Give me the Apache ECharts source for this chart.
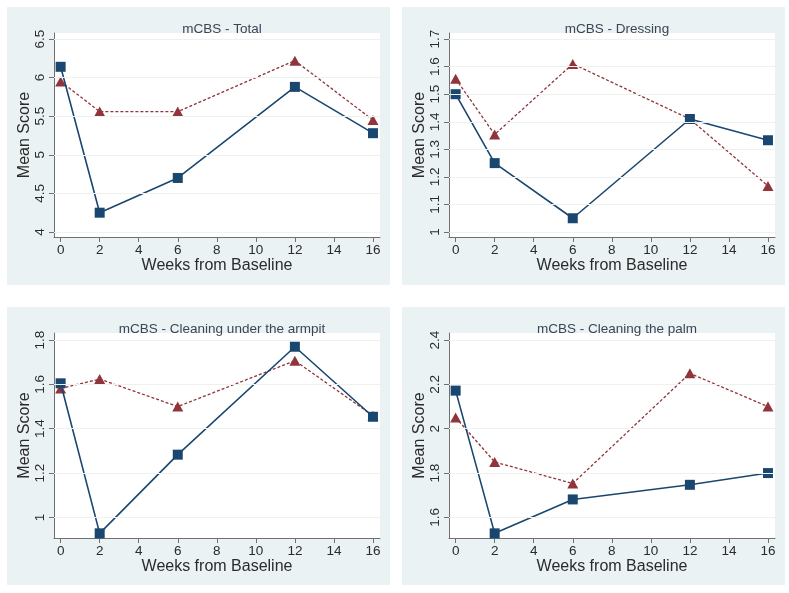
<!DOCTYPE html>
<html><head><meta charset="utf-8">
<script src="https://cdn.jsdelivr.net/npm/echarts@6/dist/echarts.min.js"></script>
<style>html,body{margin:0;padding:0;background:#fff}#c{width:789px;height:593px}</style>
</head><body><div id="c"></div>
<script>
const weeks = [0, 2, 6, 12, 16];
const xTicks = [0, 2, 4, 6, 8, 10, 12, 14, 16];
const titles = ['mCBS - Total', 'mCBS - Dressing', 'mCBS - Cleaning under the armpit', 'mCBS - Cleaning the palm'];
const totalBlue = [6.14, 4.25, 4.70, 5.88, 5.28];
const totalRed = [5.95, 5.56, 5.56, 6.22, 5.45];
const dressingBlue = [1.50, 1.25, 1.05, 1.41, 1.333];
const dressingRed = [1.556, 1.354, 1.61, 1.41, 1.167];
const armpitBlue = [1.605, 0.928, 1.283, 1.77, 1.454];
const armpitRed = [1.582, 1.624, 1.50, 1.707, 1.459];
const palmBlue = [2.172, 1.528, 1.681, 1.747, 1.80];
const palmRed = [2.051, 1.85, 1.753, 2.25, 2.10];
const totalTicks = [4, 4.5, 5, 5.5, 6, 6.5];
const dressingTicks = [1, 1.1, 1.2, 1.3, 1.4, 1.5, 1.6, 1.7];
const armpitTicks = [1, 1.2, 1.4, 1.6, 1.8];
const palmTicks = [1.6, 1.8, 2, 2.2, 2.4];

const blueSets = [totalBlue, dressingBlue, armpitBlue, palmBlue];
const redSets = [totalRed, dressingRed, armpitRed, palmRed];
const yTickSets = [totalTicks, dressingTicks, armpitTicks, palmTicks];
const yRanges = [[3.935, 6.578], [0.982, 1.722], [0.907, 1.832], [1.507, 2.432]];
const xRange = [-0.34, 16.36];

const FONT = 'Liberation Sans, Arial, sans-serif';
const BLUE = '#1a476f', RED = '#90353b', AXIS = '#707070', TXT = '#2b2b2b';
const panels = [
  {bx: 7, by: 7, gl: 54, gt: 33, gh: 204},
  {bx: 402, by: 7, gl: 449, gt: 33, gh: 204},
  {bx: 7, by: 307, gl: 54, gt: 333, gh: 205},
  {bx: 402, by: 307, gl: 449, gt: 333, gh: 205}
];
const GW = 326;

const grid = [], xAxis = [], yAxis = [], series = [], title = [], graphic = [];
panels.forEach((p, i) => {
  graphic.push({type: 'rect', z: -10, silent: true,
    shape: {x: p.bx, y: p.by, width: 383, height: 278},
    style: {fill: '#eaf2f3'}});
  grid.push({left: p.gl, top: p.gt, width: GW, height: p.gh, show: true,
    backgroundColor: '#ffffff', borderWidth: 0, containLabel: false});
  title.push({text: titles[i], left: p.gl + GW / 2, top: p.gt - 16, textAlign: 'center',
    textStyle: {fontFamily: FONT, fontSize: 13.5, fontWeight: 'normal', color: '#3a4656'}});
  xAxis.push({type: 'value', gridIndex: i, min: xRange[0], max: xRange[1],
    name: 'Weeks from Baseline', nameLocation: 'middle', nameGap: 20,
    nameTextStyle: {fontFamily: FONT, fontSize: 16, color: TXT},
    axisLine: {show: true, onZero: false, lineStyle: {color: AXIS, width: 1}},
    axisTick: {show: true, length: 5, customValues: xTicks, lineStyle: {color: AXIS}},
    axisLabel: {customValues: xTicks, margin: 6, fontFamily: FONT, fontSize: 13.5, color: TXT},
    splitLine: {show: false}});
  const yt = yTickSets[i];
  yAxis.push({type: 'value', gridIndex: i, min: yRanges[i][0], max: yRanges[i][1],
    name: 'Mean Score', nameLocation: 'middle', nameGap: 20,
    nameTextStyle: {fontFamily: FONT, fontSize: 16, color: TXT},
    axisLine: {show: true, onZero: false, lineStyle: {color: AXIS, width: 1}},
    axisTick: {show: true, length: 5, customValues: yt, lineStyle: {color: AXIS}},
    axisLabel: {customValues: yt, rotate: 90, margin: 7, fontFamily: FONT, fontSize: 13.5, color: TXT},
    splitLine: {show: false}});
  series.push({type: 'line', xAxisIndex: i, yAxisIndex: i, silent: true,
    data: [], markLine: {silent: true, symbol: 'none', label: {show: false},
      lineStyle: {color: '#eef1ee', width: 1, type: 'solid'},
      data: yt.map(v => ({yAxis: v}))}});
  series.push({type: 'line', xAxisIndex: i, yAxisIndex: i, z: 3,
    data: weeks.map((w, k) => [w, redSets[i][k]]),
    symbol: 'triangle', symbolSize: [11, 10],
    itemStyle: {color: RED},
    lineStyle: {color: RED, width: 1.3, type: [3, 2]}});
  series.push({type: 'line', xAxisIndex: i, yAxisIndex: i, z: 4,
    data: weeks.map((w, k) => [w, blueSets[i][k]]),
    symbol: 'rect', symbolSize: 10,
    itemStyle: {color: BLUE},
    lineStyle: {color: BLUE, width: 1.6}});
});

const chart = echarts.init(document.getElementById('c'), null, {renderer: 'canvas'});
chart.setOption({animation: false, backgroundColor: '#ffffff', title, grid, xAxis, yAxis, series, graphic});
</script>
</body></html>
